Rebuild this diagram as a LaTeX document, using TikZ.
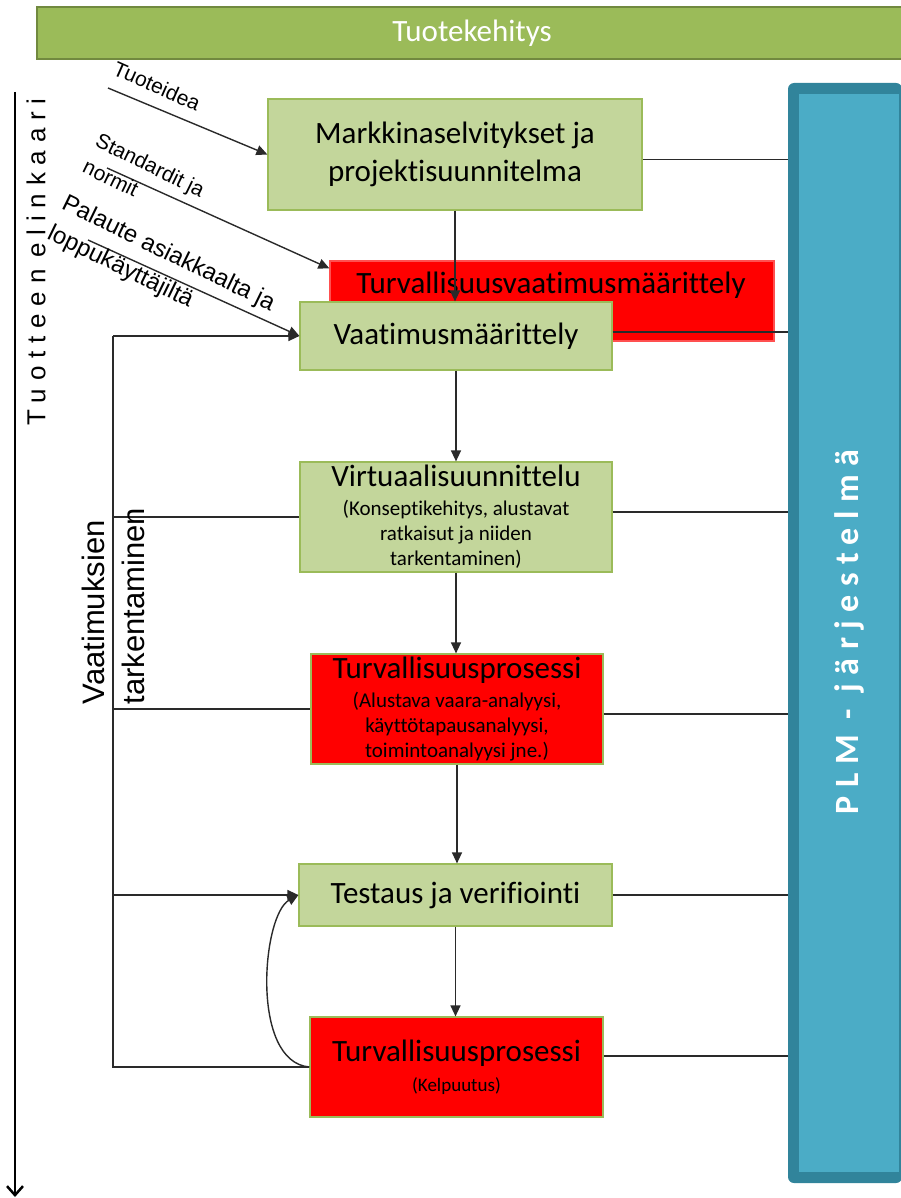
\documentclass[tikz,border=0pt]{standalone}
\usepackage{fontspec}
\setmainfont{Carlito}[RawFeature={-liga}]
\newfontfamily\arialfont{Liberation Sans}
\newfontfamily\lifefont[LetterSpace=30]{Liberation Sans}
\newfontfamily\plmfont[LetterSpace=25]{Carlito}
\newfontfamily\boxfont[RawFeature={-liga}]{Carlito}
\usetikzlibrary{arrows.meta}

\definecolor{hdrfill}{HTML}{9BBB59}
\definecolor{hdredge}{HTML}{71893F}
\definecolor{boxfill}{HTML}{C3D69B}
\definecolor{boxedge}{HTML}{9BBB59}
\definecolor{plmedge}{HTML}{31849B}
\definecolor{plmfill}{HTML}{4BACC6}
\definecolor{wirecol}{HTML}{2A2A2A}
\definecolor{svedge}{HTML}{FF5050}

\newcommand\ttlfnt{\boxfont\fontsize{31}{38}\selectfont}
\newcommand\subfnt{\boxfont\fontsize{21}{25}\selectfont}

\tikzset{
  greenbox/.style={draw=boxedge, fill=boxfill, line width=1.2pt, inner sep=0pt,
    align=center, font=\ttlfnt},
  redbox/.style={greenbox, fill=red},
  wire/.style={draw=wirecol, line width=1.4pt},
  arrow/.style={wire, -{Triangle[length=11pt,width=10pt]}},
  lbl/.style={inner sep=0pt, font=\arialfont\fontsize{21}{29}\selectfont},
}

\begin{document}
\begin{tikzpicture}[x=1pt, y=-1pt]
\useasboundingbox (0,0) rectangle (901,1198);

% header bar
\node[fill=hdrfill, draw=hdredge, line width=2pt, minimum width=870pt,
      minimum height=52pt, inner sep=0pt, text=white,
      font=\boxfont\fontsize{31}{31}\selectfont] (head) at (472,33.5) {Tuotekehitys};

% PLM system panel
\node[fill=plmedge, rounded corners=6pt, minimum width=114pt, minimum height=1100pt,
      inner sep=0pt] (plm) at (845,633) {};
\node[fill=plmfill, minimum width=100pt, minimum height=1078pt, inner sep=0pt]
      (plmin) at (849,633) {};
\node[rotate=90, text=white, inner sep=0pt,
      font=\plmfont\bfseries\fontsize{34}{34}\selectfont] (plmtext) at (849,632)
      {PLM - järjestelmä};

% life-cycle axis
\coordinate (axtop) at (15,92);
\coordinate (axbot) at (15,1197);
\draw[line width=2.5pt, -{Straight Barb[length=9pt,width=16pt]}] (axtop) -- (axbot);
\node[rotate=90, inner sep=0pt, font=\lifefont\fontsize{26}{26}\selectfont]
      (life) at (36,262) {Tuotteen\hspace{12pt}elinkaari};

% process boxes
\node[greenbox, minimum width=374pt, minimum height=111pt] (b1) at (455,154.5)
      {Markkinaselvitykset ja\\projektisuunnitelma};
\node[redbox, draw=svedge, minimum width=444pt, minimum height=80pt] (sv) at (552,301) {};
\node[inner sep=0pt, font=\ttlfnt] (svtext) at (551,285) {Turvallisuusvaatimusmäärittely};
\node[greenbox, minimum width=312pt, minimum height=68pt] (b3) at (456,336)
      {Vaatimusmäärittely};
\node[greenbox, font=\subfnt, minimum width=312pt, minimum height=110pt] (b4) at (456,517)
      {{\ttlfnt Virtuaalisuunnittelu}\\[4pt](Konseptikehitys, alustavat\\ratkaisut ja niiden\\tarkentaminen)};
\node[redbox, font=\subfnt, minimum width=292pt, minimum height=110pt] (b5) at (457,709)
      {{\ttlfnt Turvallisuusprosessi}\\[4pt](Alustava vaara-analyysi,\\käyttötapausanalyysi,\\toimintoanalyysi jne.)};
\node[greenbox, minimum width=313pt, minimum height=62pt] (b6) at (455.5,895)
      {Testaus ja verifiointi};
\node[redbox, font=\boxfont\fontsize{19}{28}\selectfont, minimum width=293pt,
      minimum height=100pt] (b7) at (456.5,1067)
      {{\ttlfnt Turvallisuusprosessi}\\[2pt](Kelpuutus)};

% inputs with their labels
\coordinate (idea) at (108,88);
\coordinate (std) at (107,168);
\coordinate (fb) at (88,240);
\draw[arrow] (idea) -- (b1.west);
\draw[arrow] (std) -- ([yshift=-8pt]sv.north west);
\draw[arrow] (fb) -- (b3.west);
\node[lbl, rotate=-24] (ideatxt) at (157,86) {Tuoteidea};
\node[lbl, rotate=-26, align=left] (stdtxt) at (144,178) {Standardit ja\\normit};
\node[lbl, rotate=-26, align=left, font=\arialfont\fontsize{24}{33}\selectfont]
      (fbtxt) at (161,269) {Palaute asiakkaalta ja\\loppukäyttäjiltä};

% main flow
\draw[arrow] (b1.south) -- (b1.south |- b3.north);
\draw[arrow] (b3.south) -- (b3.south |- b4.north);
\draw[arrow] (b4.south) -- (b4.south |- b5.north);
\draw[arrow] (b5.south) -- (b5.south |- b6.north);
\draw[arrow] (b6.south) -- (b6.south |- b7.north);

% requirement refinement loop on the left
\coordinate (ltop) at (113,336);
\coordinate (lbot) at (113,1067);
\draw[wire] (ltop) -- (lbot) -- (b7.west);
\draw[arrow] (ltop) -- (b3.west);
\draw[wire] (b4.west -| ltop) -- (b4.west);
\draw[wire] (b5.west -| ltop) -- (b5.west);
\draw[arrow] (b6.west -| ltop) -- (b6.west);
\node[rotate=90, align=left, inner sep=0pt, font=\arialfont\fontsize{31}{40}\selectfont]
      (refine) at (113,606) {Vaatimuksien\\tarkentaminen};
\draw[arrow] (b7.west) .. controls (250,1062) and (262,915) .. (b6.west);

% links to the PLM system
\draw[wire] ([yshift=-5pt]b1.east) -- ([yshift=-5pt]b1.east -| plm.west);
\draw[wire] ([yshift=4pt]b3.east) -- ([yshift=4pt]b3.east -| plm.west);
\draw[wire] ([yshift=5pt]b4.east) -- ([yshift=5pt]b4.east -| plm.west);
\draw[wire] ([yshift=-5pt]b5.east) -- ([yshift=-5pt]b5.east -| plm.west);
\draw[wire] (b6.east) -- (b6.east -| plm.west);
\draw[wire] ([yshift=11pt]b7.east) -- ([yshift=11pt]b7.east -| plm.west);
\end{tikzpicture}
\end{document}
